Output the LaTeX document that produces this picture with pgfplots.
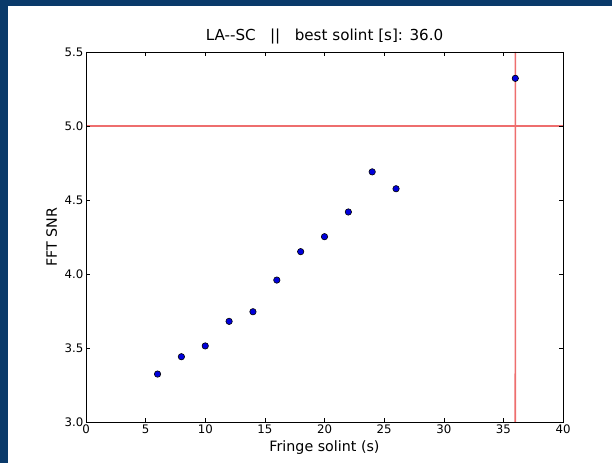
\documentclass[border=0pt]{standalone}
\usepackage{fontspec}
\setmainfont{DejaVu Sans}
\usepackage{pgfplots}
\pgfplotsset{compat=1.18}
\definecolor{slide}{HTML}{0A3A6A}
\definecolor{softred}{RGB}{238,110,110}

\begin{document}
\begin{tikzpicture}[x=1bp,y=1bp]
% slide background
\fill[white] (-86,-41) rectangle (526,422);
\fill[slide] (-86,-41) rectangle (-78,422);
\fill[slide] (-86,416) rectangle (526,422);

\begin{axis}[
  at={(0,0)}, anchor=south west,
  scale only axis,
  width=477bp, height=370bp,
  xmin=0, xmax=40, ymin=3, ymax=5.5,
  xtick={0,5,...,40},
  ytick={3,3.5,4,4.5,5,5.5},
  tick align=inside,
  major tick length=4bp,
  minor tick num=0,
  tick style={black, line width=0.5bp},
  axis line style={black, line width=0.8bp},
  axis on top,
  /pgf/number format/assume math mode=true,
  ticklabel style={font=\fontsize{11.8}{13}\selectfont},
  xticklabel style={anchor=base, yshift=-12bp},
  yticklabel style={anchor=east, inner sep=0pt, xshift=-2.5bp,
    /pgf/number format/.cd, fixed, fixed zerofill, precision=1},
  xticklabel style={/pgf/number format/.cd, fixed, precision=0},
  title={LA-{}-SC\ \ \ ||\ \ \ best solint [s]: 36.0},
  title style={at={(axis description cs:0.5,1)}, anchor=base, yshift=6bp,
    font=\fontsize{15.2}{17}\selectfont, inner sep=0pt},
  xlabel={Fringe solint (s)},
  xlabel style={at={(axis description cs:0.5,-0.081)}, anchor=base,
    font=\fontsize{14.3}{16}\selectfont, inner sep=0pt},
  ylabel={FFT SNR},
  ylabel style={at={(axis description cs:-0.061,0.5)}, anchor=base,
    font=\fontsize{14.3}{16}\selectfont, inner sep=0pt},
]
\addplot[only marks, mark=*, mark size=3.2bp,
  mark options={fill={rgb,255:red,0;green,0;blue,220}, draw=black, line width=0.6bp}]
  coordinates {
  (6,3.324) (8,3.441) (10,3.514) (12,3.680) (14,3.745) (16,3.959)
  (18,4.151) (20,4.252) (22,4.419) (24,4.690) (26,4.576) (36,5.322)
  };
\addplot[softred, line width=1.6bp, mark=none] coordinates {(0,5) (40,5)};
% best solint marker line (tiny offset keeps the rasteriser drawing it)
\addplot[softred, line width=1.6bp, mark=none] coordinates {(35.999,3) (36.001,5.5)};
\end{axis}

\pgfresetboundingbox
\path[use as bounding box] (-86,-41) rectangle (526,422);
\end{tikzpicture}
\end{document}
